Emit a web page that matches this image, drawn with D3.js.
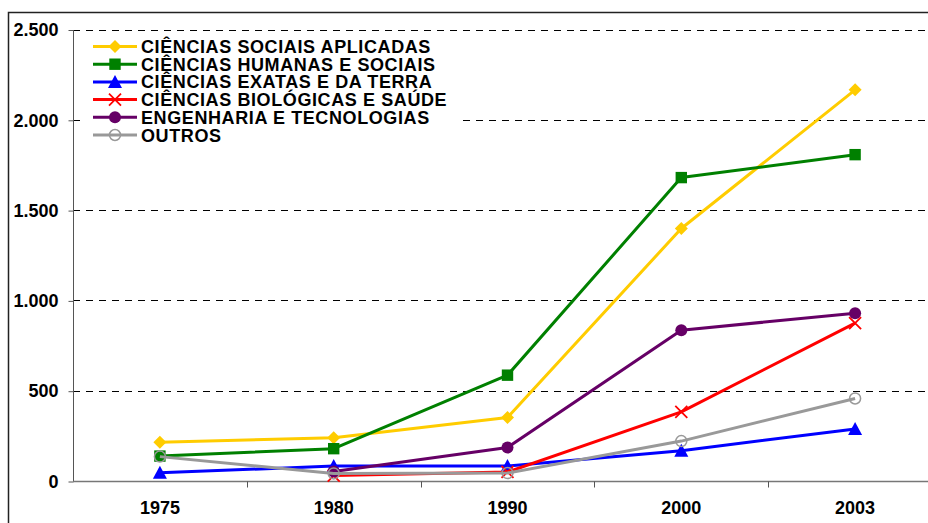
<!DOCTYPE html>
<html>
<head>
<meta charset="utf-8">
<script src="https://cdn.jsdelivr.net/npm/d3@7"></script>
<style>
  html, body { margin: 0; padding: 0; background: #fff; }
  svg { display: block; font-family: "Liberation Sans", Arial, sans-serif; }
</style>
</head>
<body>
<svg id="chart" width="928" height="523"></svg>
<script>
// Years on the category axis
const years = ["1975", "1980", "1990", "2000", "2003"];

// Series values (null = no value for that year)
const sociaisAplicadas = [215, 240, 352, 1398, 2166];
const humanasSociais   = [138, 179, 586, 1680, 1807];
const exatasTerra      = [45, 83, 83, 168, 288];
const biologicasSaude  = [null, 30, 50, 383, 874];
const engenharia       = [null, 52, 186, 835, 929];
const outros           = [135, 42, 44, 221, 457];

const seriesNames = [
  "CIÊNCIAS SOCIAIS APLICADAS",
  "CIÊNCIAS HUMANAS E SOCIAIS",
  "CIÊNCIAS EXATAS E DA TERRA",
  "CIÊNCIAS BIOLÓGICAS E SAÚDE",
  "ENGENHARIA E TECNOLOGIAS",
  "OUTROS"
];
const seriesValues = [sociaisAplicadas, humanasSociais, exatasTerra, biologicasSaude, engenharia, outros];
const seriesColors = ["#FFCC00", "#008000", "#0000FF", "#FF0000", "#660066", "#999999"];
const seriesMarkers = ["diamond", "square", "triangle", "cross", "circle", "hollow"];

const yTicks = [0, 500, 1000, 1500, 2000, 2500];
const yTickLabels = ["0", "500", "1.000", "1.500", "2.000", "2.500"];

const svg = d3.select("#chart");

const plot = { left: 73, right: 942, top: 29.5, bottom: 481 };

const x = d3.scaleBand().domain(years).range([plot.left, plot.right]);
const y = d3.scaleLinear().domain([0, 2500]).range([plot.bottom, plot.top]);

// Outer frame
svg.append("rect")
  .attr("x", 8.5).attr("y", 12.5)
  .attr("width", 940).attr("height", 540)
  .attr("fill", "none").attr("stroke", "#222").attr("stroke-width", 1.5);

// Dashed horizontal gridlines
svg.append("g")
  .selectAll("line")
  .data(yTicks.filter(d => d > 0))
  .join("line")
  .attr("x1", plot.left).attr("x2", 928)
  .attr("y1", d => Math.round(y(d)) + 0.5).attr("y2", d => Math.round(y(d)) + 0.5)
  .attr("stroke", "#000").attr("stroke-width", 1)
  .attr("stroke-dasharray", "7,6");

// Y axis
const yAxis = d3.axisLeft(y)
  .tickValues(yTicks)
  .tickFormat((d, i) => yTickLabels[i])
  .tickSize(5)
  .tickPadding(10);
const gy = svg.append("g").attr("transform", `translate(${plot.left + 0.5},0.5)`).call(yAxis);
gy.select(".domain").attr("stroke", "#555").attr("d", `M0,${y(2500)}V${y(0)}`);
gy.selectAll(".tick line").attr("stroke", "#555");
gy.selectAll(".tick text")
  .attr("font-family", "Liberation Sans, Arial, sans-serif")
  .attr("font-size", 18).attr("font-weight", "bold").attr("fill", "#000");

// X axis with ticks between categories
const xAxis = d3.axisBottom(x).tickSize(0).tickPadding(20);
const gx = svg.append("g").attr("transform", `translate(0,${plot.bottom + 0.5})`).call(xAxis);
gx.select(".domain").attr("stroke", "#777").attr("stroke-width", 1.5)
  .attr("d", `M${plot.left},0H${plot.right}`);
gx.selectAll(".tick text")
  .attr("font-family", "Liberation Sans, Arial, sans-serif")
  .attr("font-size", 18).attr("font-weight", "bold").attr("fill", "#000");
gx.selectAll(".sep")
  .data(years.slice(1))
  .join("line")
  .attr("class", "sep")
  .attr("x1", d => Math.round(x(d)) + 0.5).attr("x2", d => Math.round(x(d)) + 0.5)
  .attr("y1", 0).attr("y2", 6)
  .attr("stroke", "#555");

// Marker drawing
function drawMarker(g, type, color, cx, cy) {
  const s = 6;
  if (type === "diamond") {
    g.append("path").attr("d", `M${cx},${cy - s - 0.5}L${cx + s + 0.5},${cy}L${cx},${cy + s + 0.5}L${cx - s - 0.5},${cy}Z`)
      .attr("fill", color);
  } else if (type === "square") {
    g.append("rect").attr("x", cx - 5.7).attr("y", cy - 5.7).attr("width", 11.4).attr("height", 11.4)
      .attr("fill", color);
  } else if (type === "triangle") {
    g.append("path").attr("d", `M${cx},${cy - s - 1}L${cx + s + 1},${cy + s}L${cx - s - 1},${cy + s}Z`)
      .attr("fill", color);
  } else if (type === "cross") {
    g.append("path").attr("d", `M${cx - s},${cy - s}L${cx + s},${cy + s}M${cx - s},${cy + s}L${cx + s},${cy - s}`)
      .attr("stroke", color).attr("stroke-width", 1.8).attr("fill", "none");
  } else if (type === "circle") {
    g.append("circle").attr("cx", cx).attr("cy", cy).attr("r", s).attr("fill", color);
  } else if (type === "hollow") {
    g.append("circle").attr("cx", cx).attr("cy", cy).attr("r", s - 0.5)
      .attr("fill", "none").attr("stroke", color).attr("stroke-width", 1.5);
  }
}

const cxOf = d => x(d) + x.bandwidth() / 2;

// Series lines and markers
seriesValues.forEach((vals, i) => {
  const pts = years.map((yr, j) => ({ yr, v: vals[j] }));
  const line = d3.line()
    .defined(d => d.v !== null)
    .x(d => cxOf(d.yr))
    .y(d => y(d.v));
  const g = svg.append("g");
  g.append("path").datum(pts).attr("d", line)
    .attr("fill", "none").attr("stroke", seriesColors[i]).attr("stroke-width", 3)
    .attr("stroke-linejoin", "round");
  pts.filter(d => d.v !== null).forEach(d => drawMarker(g, seriesMarkers[i], seriesColors[i], cxOf(d.yr), y(d.v)));
});

// Legend
const legend = svg.append("g");
legend.append("rect")
  .attr("x", 86).attr("y", 37).attr("width", 374).attr("height", 108)
  .attr("fill", "#fff");
seriesNames.forEach((name, i) => {
  const cy = 46.5 + i * 17.7;
  const g = legend.append("g");
  g.append("line").attr("x1", 93).attr("x2", 137).attr("y1", cy).attr("y2", cy)
    .attr("stroke", seriesColors[i]).attr("stroke-width", 3);
  drawMarker(g, seriesMarkers[i], seriesColors[i], 115, cy);
  g.append("text").attr("x", 141).attr("y", cy + 6.5)
    .attr("font-size", 18).attr("font-weight", "bold").attr("fill", "#000")
    .attr("letter-spacing", 0.6)
    .text(name);
});
</script>
</body>
</html>
